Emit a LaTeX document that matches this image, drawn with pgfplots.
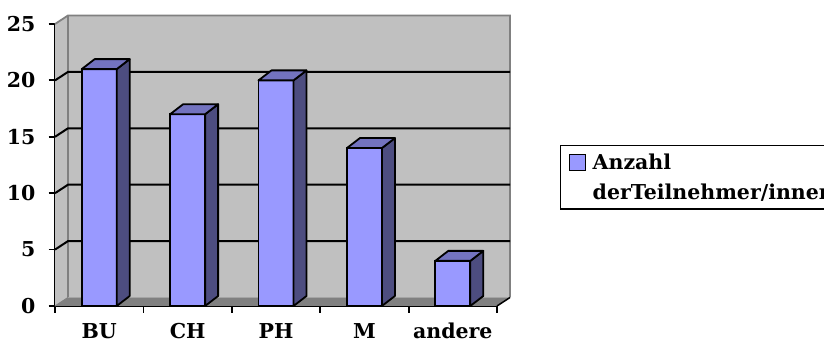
\documentclass[border=0pt]{standalone}
\usepackage{fontspec}
\setmainfont{DejaVu Serif}
\usepackage{pgfplots}
\usepackage{pgfplotstable}
\pgfplotsset{compat=1.18}

\definecolor{barfront}{HTML}{9999FF}
\definecolor{barside}{HTML}{4D4D80}
\definecolor{bartop}{HTML}{7373BF}
\definecolor{wallgray}{HTML}{C0C0C0}
\definecolor{floorgray}{HTML}{808080}
\definecolor{edgegray}{HTML}{808080}

% participants per subject
\pgfplotstableread{
idx val
0   21
1   17
2   20
3   14
4   4
}\teilnehmer

\newcommand\chartfont{\fontsize{20.5}{30}\selectfont\bfseries}

\begin{document}
\begin{tikzpicture}[font=\chartfont]
\useasboundingbox (0,0) rectangle (824pt,342pt);
\begin{axis}[
  at={(55pt,36pt)}, anchor=south west,
  scale only axis, width=442pt, height=282pt,
  xmin=-0.5, xmax=4.5, ymin=0, ymax=25,
  clip=false,
  axis x line*=bottom, axis y line*=left,
  axis line style={line width=1.8pt, -},
  xtick={-0.5,0.5,1.5,2.5,3.5,4.5}, xticklabels={},
  extra x ticks={0,1,2,3,4},
  extra x tick labels={BU,CH,PH,M,andere},
  extra x tick style={major tick length=0pt},
  ytick={0,5,...,25},
  tick align=outside, major tick length=6.5pt,
  tick style={line width=1.8pt, black},
  /pgf/number format/assume math mode=true,
  ticklabel style={font=\chartfont},
  xticklabel style={inner sep=0pt, text height=14pt, text depth=0pt, anchor=north, yshift=-18pt},
  yticklabel style={inner sep=0pt, anchor=east, xshift=-13pt},
  legend style={at={(1.1425,0.571)}, anchor=north west, draw=black, line width=1.5pt,
    fill=white, font=\chartfont, inner xsep=8pt, inner ysep=6pt, column sep=4.5pt},
  legend cell align=left,
]
% back wall, left side wall and floor
\fill[wallgray] (axis cs:-0.5,0) -- ([shift={(13pt,8.5pt)}]axis cs:-0.5,0)
  -- ([shift={(13pt,8.5pt)}]axis cs:4.5,0) -- ([shift={(13pt,8.5pt)}]axis cs:4.5,25)
  -- ([shift={(13pt,8.5pt)}]axis cs:-0.5,25) -- (axis cs:-0.5,25) -- cycle;
\fill[floorgray] (axis cs:-0.5,0) -- (axis cs:4.5,0)
  -- ([shift={(13pt,8.5pt)}]axis cs:4.5,0) -- ([shift={(13pt,8.5pt)}]axis cs:-0.5,0) -- cycle;
\draw[edgegray, line width=1.8pt] (axis cs:-0.5,25) -- ([shift={(13pt,8.5pt)}]axis cs:-0.5,25)
  -- ([shift={(13pt,8.5pt)}]axis cs:4.5,25) -- ([shift={(13pt,8.5pt)}]axis cs:4.5,0);
\draw[edgegray, line width=1.8pt] ([shift={(13pt,8.5pt)}]axis cs:-0.5,25) -- ([shift={(13pt,8.5pt)}]axis cs:-0.5,0);
\draw[edgegray, line width=1pt] (axis cs:-0.5,0) -- ([shift={(13pt,8.5pt)}]axis cs:-0.5,0);
\draw[black, line width=1.5pt] (axis cs:4.5,0) -- ([shift={(13pt,8.5pt)}]axis cs:4.5,0);
% grid lines running over the side wall and the back wall
\pgfplotsinvokeforeach{5,10,15,20}{
  \draw[black, line width=2pt] (axis cs:-0.5,#1) -- ([shift={(13pt,8.5pt)}]axis cs:-0.5,#1)
    -- ([shift={(13pt,8.5pt)}]axis cs:4.5,#1);
}
% front faces of the bars
\addplot[ybar, bar width=35pt, fill=barfront, draw=black, line width=1.8pt,
  legend image code/.code={\draw[fill=barfront, draw=black, line width=1.5pt] (0pt,7pt) rectangle (16pt,23pt);}]
  table[x=idx, y=val] {\teilnehmer};
\addlegendentry[align=left]{Anzahl\\derTeilnehmer/innen}
% side and top faces of the bars
\addplot[forget plot, only marks, mark=*, mark size=0pt, mark options={draw=none, fill=none},
  scatter,
  visualization depends on={rawy \as \barval},
  scatter/@pre marker code/.code={
    \pgfmathsetlengthmacro\barh{\barval*11.28pt}
    \filldraw[fill=barside, draw=black, line width=1.8pt, line join=round]
      (17.5pt,0pt) -- (30.5pt,10pt) -- (30.5pt,10pt-\barh) -- (17.5pt,-\barh) -- cycle;
    \filldraw[fill=bartop, draw=black, line width=1.8pt, line join=round]
      (-17.5pt,0pt) -- (17.5pt,0pt) -- (30.5pt,10pt) -- (-4.5pt,10pt) -- cycle;
  },
  scatter/@post marker code/.code={},
] table[x=idx, y=val] {\teilnehmer};
\end{axis}
\end{tikzpicture}
\end{document}
